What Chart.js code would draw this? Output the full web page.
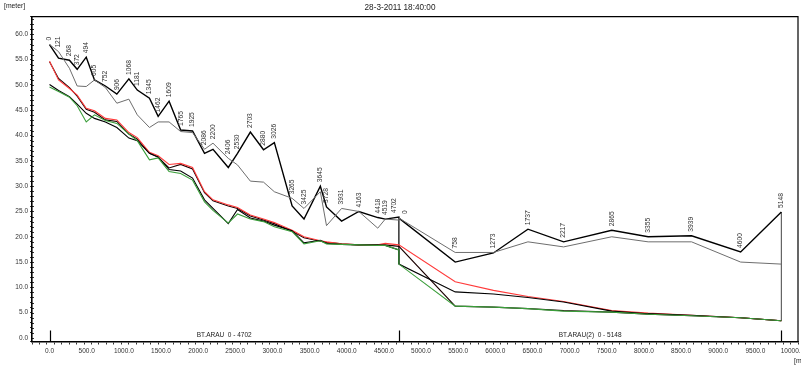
<!DOCTYPE html>
<html>
<head>
<meta charset="utf-8">
<script src="https://cdn.jsdelivr.net/npm/chart.js@4/dist/chart.umd.min.js"></script>
<style>
  html, body { margin: 0; padding: 0; background: #fff; }
  #wrap { width: 801px; height: 371px; }
</style>
</head>
<body>
<div id="wrap"><canvas id="profile" width="801" height="371"></canvas></div>
<script>
// ---- Longitudinal profile, BT.ARAU + BT.ARAU(2) ----
const titleText = '28-3-2011 18:40:00';
const yUnitText = '[meter]';
const xUnitText = '[m]';

// Branch 1: BT.ARAU, chainage 0 - 4702
const branch1Name = 'BT.ARAU';
const branch1Chainage = [0, 121, 268, 372, 494, 605, 752, 906, 1068, 1181, 1345, 1462, 1609, 1765, 1925, 2086,
  2200, 2406, 2530, 2703, 2880, 3026, 3265, 3425, 3645, 3728, 3931, 4163, 4418, 4519, 4702];
const branch1LeftBank = [58.0, 55.3, 54.9, 53.1, 55.5, 51.0, 49.8, 48.2, 51.2, 49.0, 47.4, 43.8, 46.8, 41.1, 40.9, 36.5,
  37.3, 33.7, 36.5, 40.7, 37.2, 38.6, 26.1, 23.5, 30.0, 25.9, 23.1, 25.0, 23.8, 23.5, 23.9];
const branch1RightBank = [58.0, 56.6, 53.3, 49.8, 49.7, 51.0, 49.5, 46.4, 47.2, 44.1, 41.6, 42.7, 42.7, 40.8, 40.6, 37.3,
  38.5, 35.5, 34.2, 31.0, 30.8, 28.9, 27.6, 25.6, 28.9, 22.2, 25.6, 25.0, 21.7, 23.5, 23.3];
const branch1WaterLevel = [54.7, 51.0, 49.3, 48.0, 45.4, 44.9, 43.4, 43.1, 40.6, 39.6, 36.7, 36.0, 34.3, 34.5, 33.7, 28.9,
  27.3, 26.3, 25.8, 24.3, 23.5, 22.8, 21.3, 20.0, 19.2, 19.0, 18.6, 18.4, 18.4, 18.7, 18.4];
const branch1MaxLevel = [54.6, 51.3, 49.5, 47.8, 45.2, 44.6, 43.1, 42.8, 40.3, 39.3, 36.5, 35.7, 33.6, 34.3, 33.4, 28.7,
  27.1, 26.1, 25.6, 24.1, 23.3, 22.6, 21.1, 19.8, 19.1, 18.9, 18.6, 18.4, 18.4, 18.4, 18.1];
const branch1Bed = [49.6, 48.7, 47.6, 45.9, 42.7, 44.1, 43.0, 42.4, 40.3, 39.0, 35.2, 35.6, 32.9, 32.5, 31.2, 26.9,
  25.2, 22.7, 24.5, 23.5, 23.0, 22.0, 21.0, 18.6, 19.2, 18.6, 18.5, 18.4, 18.3, 18.3, 17.4];
const branch1MinLevel = [50.1, 48.9, 47.7, 46.2, 44.4, 43.4, 42.7, 41.6, 39.5, 39.0, 36.5, 35.8, 33.3, 33.0, 31.6, 27.3,
  25.6, 22.6, 25.4, 23.7, 23.1, 22.3, 21.2, 18.8, 19.3, 18.7, 18.5, 18.4, 18.4, 18.3, 17.4];

// Branch 2: BT.ARAU(2), chainage 0 - 5148, drawn after branch 1
const branch2Name = 'BT.ARAU(2)';
const branch2Chainage = [0, 758, 1273, 1737, 2217, 2865, 3355, 3939, 4600, 5148];
const branch2LeftBank = [23.7, 15.0, 16.8, 21.5, 19.0, 21.3, 20.0, 20.2, 17.0, 24.9];
const branch2RightBank = [23.7, 16.9, 16.9, 19.0, 18.0, 20.0, 19.0, 19.0, 15.0, 14.6];
const branch2WaterLevel = [18.4, 11.1, 9.4, 8.2, 7.2, 5.4, 4.9, 4.5, 4.0, 3.4];
const branch2MaxLevel = [18.1, 6.3, 6.1, 5.8, 5.4, 5.1, 4.7, 4.4, 4.0, 3.4];
const branch2Bed = [14.6, 6.3, 6.1, 5.8, 5.3, 5.1, 4.7, 4.4, 4.0, 3.4];
const branch2MinLevel = [14.6, 9.1, 8.7, 8.0, 7.1, 5.3, 4.8, 4.5, 4.0, 3.4];

// Axis ranges and tick steps
const xRange = [-236, 10074];
const yRange = [-0.7, 63.5];
const xMinorStep = 100, xLabelStep = 500, xLabelMax = 10000;
const yMinorStep = 1, yLabelStep = 5, yLabelMax = 60;

const branchOffset = branch1Chainage[branch1Chainage.length - 1];
const branchEnd = branchOffset + branch2Chainage[branch2Chainage.length - 1];

function joinBranches(v1, v2) {
  const pts = branch1Chainage.map((c, i) => ({ x: c, y: v1[i] }));
  return pts.concat(branch2Chainage.map((c, i) => ({ x: branchOffset + c, y: v2[i] })));
}
function lineSet(label, data, color, width) {
  return { label, data, borderColor: color, backgroundColor: color, borderWidth: width,
           pointRadius: 0, tension: 0, fill: false };
}

const FONT = '"Liberation Sans", Arial, sans-serif';
const TEXT = '#222';

const datasets = [
  lineSet('Right bank', joinBranches(branch1RightBank, branch2RightBank), '#6e6e6e', 1),
  lineSet('Left bank', joinBranches(branch1LeftBank, branch2LeftBank), '#000', 1.4),
  lineSet('Bed', joinBranches(branch1Bed, branch2Bed), '#3a9e3a', 1.1),
  lineSet('Min level', joinBranches(branch1MinLevel, branch2MinLevel), '#000', 1.1),
  lineSet('Water level', joinBranches(branch1WaterLevel, branch2WaterLevel), '#ff3b3b', 1.1),
  lineSet('Max level', joinBranches(branch1MaxLevel, branch2MaxLevel), '#1a0000', 1.1),
  // closing verticals of branch 2 from bank to bed
  lineSet('Start section', [{ x: branchOffset, y: branch2LeftBank[0] }, { x: branchOffset, y: branch2Bed[0] }], '#111', 1.3),
  lineSet('End section', [{ x: branchEnd, y: branch2LeftBank[branch2LeftBank.length - 1] },
                          { x: branchEnd, y: branch2Bed[branch2Bed.length - 1] }], '#555', 1.1)
];

const decor = {
  id: 'profileDecor',
  beforeDraw(chart) {
    const c = chart.ctx;
    c.save();
    c.fillStyle = '#fff';
    c.fillRect(0, 0, chart.width, chart.height);
    c.restore();
  },
  afterDatasetsDraw(chart) {
    const c = chart.ctx, xs = chart.scales.x, ys = chart.scales.y;
    c.save();
    c.font = '6.7px ' + FONT;
    c.fillStyle = '#333';
    c.textAlign = 'left';
    c.textBaseline = 'middle';
    const branches = [
      { ch: branch1Chainage, l: branch1LeftBank, r: branch1RightBank, off: 0 },
      { ch: branch2Chainage, l: branch2LeftBank, r: branch2RightBank, off: branchOffset }
    ];
    branches.forEach((b, bi) => {
      b.ch.forEach((ch, i) => {
        let dx = 0;
        if (bi === 0 && i === b.ch.length - 1) dx = -5;
        if (bi === 1 && i === 0) dx = 6;
        const px = xs.getPixelForValue(b.off + ch) + dx;
        const py = ys.getPixelForValue(Math.max(b.l[i], b.r[i])) - 4;
        c.save();
        c.translate(px, py);
        c.rotate(-Math.PI / 2);
        c.fillText(String(ch), 0, 0);
        c.restore();
      });
    });
    c.restore();
  },
  afterDraw(chart) {
    const c = chart.ctx, a = chart.chartArea, xs = chart.scales.x, ys = chart.scales.y;
    c.save();
    // frame
    c.strokeStyle = '#000';
    c.lineWidth = 1.2;
    c.beginPath();
    c.moveTo(a.left, a.top); c.lineTo(a.right, a.top); c.lineTo(a.right, a.bottom);
    c.stroke();
    // inner minor ticks on the level axis
    c.lineWidth = 0.8;
    c.beginPath();
    for (let v = Math.ceil(yRange[0]); v <= yRange[1]; v += yMinorStep) {
      const py = Math.round(ys.getPixelForValue(v)) + 0.5;
      c.moveTo(a.left, py); c.lineTo(a.left + 2, py);
    }
    c.stroke();
    // branch separators
    c.lineWidth = 1.2;
    c.beginPath();
    [0, branchOffset, branchEnd].forEach(v => {
      const px = Math.round(xs.getPixelForValue(v)) + 0.5;
      c.moveTo(px, a.bottom); c.lineTo(px, a.bottom - 11);
    });
    c.stroke();
    // tick labels
    c.fillStyle = '#333';
    c.font = '6.5px ' + FONT;
    c.textAlign = 'center';
    c.textBaseline = 'middle';
    for (let v = 0; v <= xLabelMax; v += xLabelStep) {
      c.fillText(v.toFixed(1), xs.getPixelForValue(v), a.bottom + 9.5);
    }
    c.textAlign = 'right';
    for (let v = 0; v <= yLabelMax; v += yLabelStep) {
      c.fillText(v.toFixed(1), a.left - 4, ys.getPixelForValue(v));
    }
    // branch names
    c.fillStyle = TEXT;
    c.textAlign = 'center';
    const yb = a.bottom - 6;
    c.fillText(branch1Name + '  ' + branch1Chainage[0] + ' - ' + branchOffset,
      (xs.getPixelForValue(0) + xs.getPixelForValue(branchOffset)) / 2, yb);
    c.fillText(branch2Name + '  ' + branch2Chainage[0] + ' - ' + branch2Chainage[branch2Chainage.length - 1],
      (xs.getPixelForValue(branchOffset) + xs.getPixelForValue(branchEnd)) / 2, yb);
    // title and units
    c.font = '8.2px ' + FONT;
    c.fillText(titleText, 400, 7.5);
    c.font = '6.8px ' + FONT;
    c.textAlign = 'left';
    c.fillText(yUnitText, 4, 6);
    c.fillText(xUnitText, 794, 361);
    c.restore();
  }
};

new Chart(document.getElementById('profile'), {
  type: 'line',
  data: { datasets },
  plugins: [decor],
  options: {
    responsive: false,
    animation: false,
    devicePixelRatio: 1,
    layout: { padding: { top: 16.7, right: 3, left: 0, bottom: 0 } },
    plugins: { legend: { display: false }, tooltip: { enabled: false }, title: { display: false } },
    elements: { line: { borderJoinStyle: 'miter' } },
    scales: {
      x: {
        type: 'linear',
        min: xRange[0], max: xRange[1],
        afterFit: s => { s.height = 29.5; },
        ticks: { display: false, stepSize: xMinorStep, autoSkip: false, maxRotation: 0, minRotation: 0 },
        grid: { drawOnChartArea: false, drawTicks: true, tickLength: 3, color: '#000', lineWidth: 0.8 },
        border: { display: true, color: '#000', width: 1.6 }
      },
      y: {
        type: 'linear',
        min: yRange[0], max: yRange[1],
        afterFit: s => { s.width = 32; },
        ticks: { display: false, stepSize: yMinorStep, autoSkip: false },
        grid: { drawOnChartArea: false, drawTicks: true, tickLength: 2, color: '#000', lineWidth: 0.8 },
        border: { display: true, color: '#000', width: 1.6 }
      }
    }
  }
});
</script>
</body>
</html>
